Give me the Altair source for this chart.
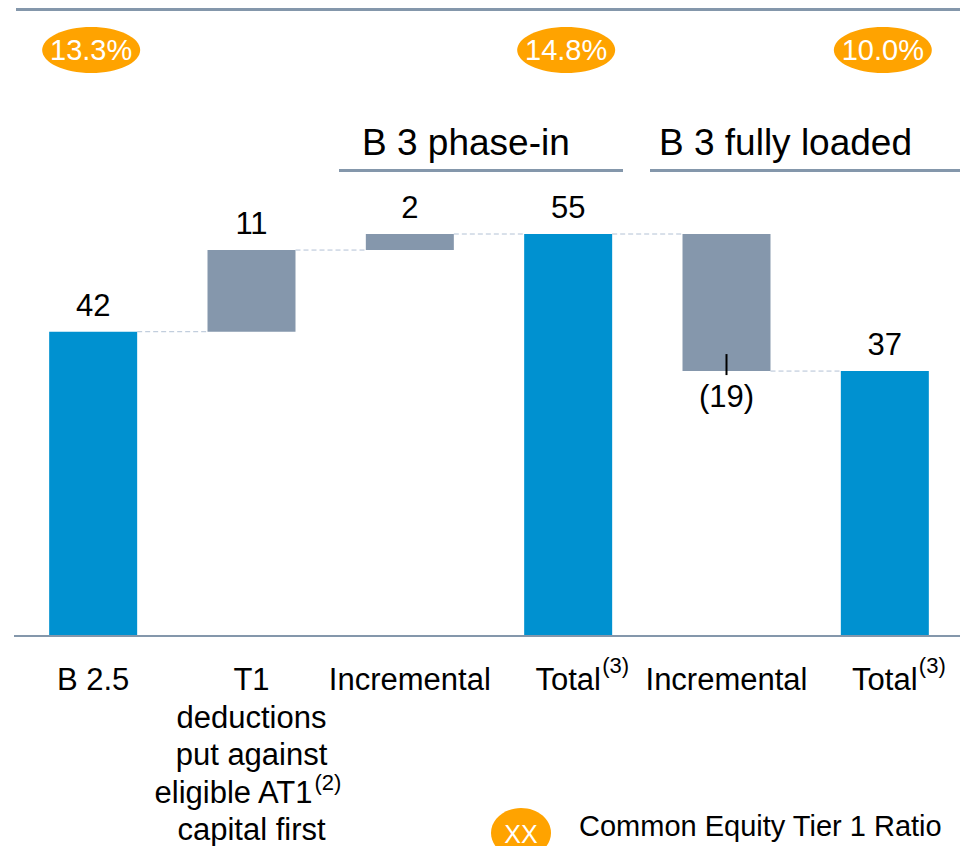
import altair as alt
import pandas as pd

# ---- data ----
cats = ["B 2.5", "T1 deductions", "Incremental phase-in", "Total phase-in",
        "Incremental fully loaded", "Total fully loaded"]
axis_labels = ["B 2.5", "T1\ndeductions\nput against", "Incremental",
               "Total", "Incremental", "Total"]
bar_start = [0, 41.6, 52.8, 0, 55.0, 0]
bar_end = [41.6, 52.8, 55.0, 55.0, 36.2, 36.2]
bar_kind = ["total", "change", "change", "total", "change", "total"]
value_labels = ["42", "11", "2", "55", "(19)", "37"]
cet1_cats = ["B 2.5", "Total phase-in", "Total fully loaded"]
cet1_ratios = ["13.3%", "14.8%", "10.0%"]
sup_cats = ["Total phase-in", "Total fully loaded"]
sup_text = ["(3)", "(3)"]
at1_line = "eligible AT1"
at1_sup = "(2)"
at1_last = "capital first"
headers = ["B 3 phase-in", "B 3 fully loaded"]
legend_symbol = "XX"
legend_text = "Common Equity Tier 1 Ratio"

BLUE = "#0091D0"
GRAY = "#8597AC"
ORANGE = "#FFA300"
DASH = "#B3C2D5"
LINE = "#8497AB"
FONT = "Liberation Sans"

bars = pd.DataFrame({"cat": cats, "start": bar_start, "end": bar_end,
                     "kind": bar_kind, "label": value_labels, "axis": axis_labels})
bars["top"] = bars[["start", "end"]].max(axis=1)
bars["bottom"] = bars[["start", "end"]].min(axis=1)
up = bars[bars["end"] >= bars["start"]]
down = bars[bars["end"] < bars["start"]]

conn = pd.DataFrame({"from": cats[:-1], "to": cats[1:], "level": bar_end[:-1]})
cet1 = pd.DataFrame({"cat": cet1_cats, "ratio": cet1_ratios})
sups = pd.DataFrame({"cat": sup_cats, "text": sup_text})
at1 = pd.DataFrame({"cat": ["T1 deductions"], "text": [at1_line], "sup": [at1_sup],
                    "last": [at1_last]})
hdr = pd.DataFrame({"text": headers})
leg = pd.DataFrame({"symbol": [legend_symbol], "label": [legend_text]})

xscale = alt.Scale(domain=cats, range=[0, 950], paddingInner=0, paddingOuter=0)
yscale = alt.Scale(domain=[0, 86], nice=False, zero=True)
X = alt.X("cat:N", sort=cats, scale=xscale, axis=None)

LH = 37.5
BASE = 682

bar_layer = alt.Chart(bars).mark_bar(width=88).encode(
    x=X,
    y=alt.Y("start:Q", scale=yscale, axis=None),
    y2="end:Q",
    color=alt.Color("kind:N", scale=alt.Scale(domain=["total", "change"], range=[BLUE, GRAY]), legend=None),
)

conn_layer = alt.Chart(conn).mark_rule(color=DASH, strokeWidth=1, strokeDash=[5, 3],
                                       xOffset=44, x2Offset=-44).encode(
    x=alt.X("from:N", sort=cats, scale=xscale, axis=None),
    x2="to:N",
    y=alt.Y("level:Q", scale=yscale, axis=None),
)

up_labels = alt.Chart(up).mark_text(font=FONT, fontSize=31, color="black",
                                    baseline="alphabetic", dy=-16).encode(
    x=X, y=alt.Y("top:Q", scale=yscale, axis=None), text="label:N")

down_labels = alt.Chart(down).mark_text(font=FONT, fontSize=31, color="black",
                                        baseline="alphabetic", dy=36).encode(
    x=X, y=alt.Y("bottom:Q", scale=yscale, axis=None), text="label:N")

leader = alt.Chart(down).mark_rule(color="black", strokeWidth=2, yOffset=-17, y2Offset=4).encode(
    x=X, y=alt.Y("bottom:Q", scale=yscale, axis=None), y2="bottom:Q")

baseline_rule = alt.Chart(leg).mark_rule(color=LINE, strokeWidth=2).encode(
    x=alt.value(0), x2=alt.value(954), y=alt.value(628))

top_rule = alt.Chart(leg).mark_rule(color=LINE, strokeWidth=3).encode(
    x=alt.value(2), x2=alt.value(954), y=alt.value(1.5))

hdr_line1 = alt.Chart(leg).mark_rule(color=LINE, strokeWidth=3).encode(
    x=alt.value(325), x2=alt.value(609), y=alt.value(162.5))
hdr_line2 = alt.Chart(leg).mark_rule(color=LINE, strokeWidth=3).encode(
    x=alt.value(636), x2=alt.value(946), y=alt.value(162.5))

hdr1 = alt.Chart(hdr.iloc[[0]]).mark_text(font=FONT, fontSize=37, color="black", align="left",
                                           baseline="alphabetic").encode(
    x=alt.value(348), y=alt.value(147), text="text:N")
hdr2 = alt.Chart(hdr.iloc[[1]]).mark_text(font=FONT, fontSize=37, color="black", align="left",
                                           baseline="alphabetic").encode(
    x=alt.value(645), y=alt.value(147), text="text:N")

ELLIPSE = "M-1,0A1,0.47,0,1,1,1,0A1,0.47,0,1,1,-1,0Z"
ovals = alt.Chart(cet1).mark_point(shape=ELLIPSE, filled=True, size=9604, color=ORANGE,
                                   opacity=1, xOffset=-2).encode(
    x=X, y=alt.value(42))
oval_text = alt.Chart(cet1).mark_text(font=FONT, fontSize=29, color="white", baseline="middle",
                                      dx=-2, dy=1).encode(
    x=X, y=alt.value(42), text="ratio:N")

cat_labels = alt.Chart(bars).mark_text(font=FONT, fontSize=31, color="black", baseline="alphabetic",
                                       lineBreak="\n", lineHeight=LH).encode(
    x=X, y=alt.value(BASE), text="axis:N")

sup_labels = alt.Chart(sups).mark_text(font=FONT, fontSize=22, color="black", align="left",
                                       baseline="alphabetic", dx=34).encode(
    x=X, y=alt.value(BASE - 17), text="text:N")

at1_text = alt.Chart(at1).mark_text(font=FONT, fontSize=31, color="black", baseline="alphabetic",
                                    dx=-18).encode(
    x=X, y=alt.value(BASE + 3 * LH), text="text:N")
at1_sup_text = alt.Chart(at1).mark_text(font=FONT, fontSize=22, color="black", align="left",
                                        baseline="alphabetic", dx=63).encode(
    x=X, y=alt.value(BASE + 3 * LH - 13), text="sup:N")
at1_last_text = alt.Chart(at1).mark_text(font=FONT, fontSize=31, color="black",
                                         baseline="alphabetic").encode(
    x=X, y=alt.value(BASE + 4 * LH), text="last:N")

LEG_ELLIPSE = "M-1,0A1,0.83,0,1,1,1,0A1,0.83,0,1,1,-1,0Z"
leg_oval = alt.Chart(leg).mark_point(shape=LEG_ELLIPSE, filled=True, size=3600, color=ORANGE,
                                     opacity=1).encode(x=alt.value(507), y=alt.value(825))
leg_sym = alt.Chart(leg).mark_text(font=FONT, fontSize=25, color="white", baseline="middle").encode(
    x=alt.value(507), y=alt.value(827), text="symbol:N")
leg_text = alt.Chart(leg).mark_text(font=FONT, fontSize=29, color="black", align="left",
                                    baseline="alphabetic").encode(
    x=alt.value(565), y=alt.value(828), text="label:N")

chart = alt.layer(
    bar_layer, conn_layer, up_labels, down_labels, leader, baseline_rule, top_rule,
    hdr_line1, hdr_line2, hdr1, hdr2, ovals, oval_text, cat_labels, sup_labels,
    at1_text, at1_sup_text, at1_last_text, leg_oval, leg_sym, leg_text,
).properties(
    width=946, height=627,
    autosize=alt.AutoSizeParams(type="none"),
    padding={"left": 6, "top": 0, "right": 0, "bottom": 211},
    background="white",
).configure_view(stroke=None)

chart.save("out.html", embed_options={"renderer": "svg", "actions": False})
